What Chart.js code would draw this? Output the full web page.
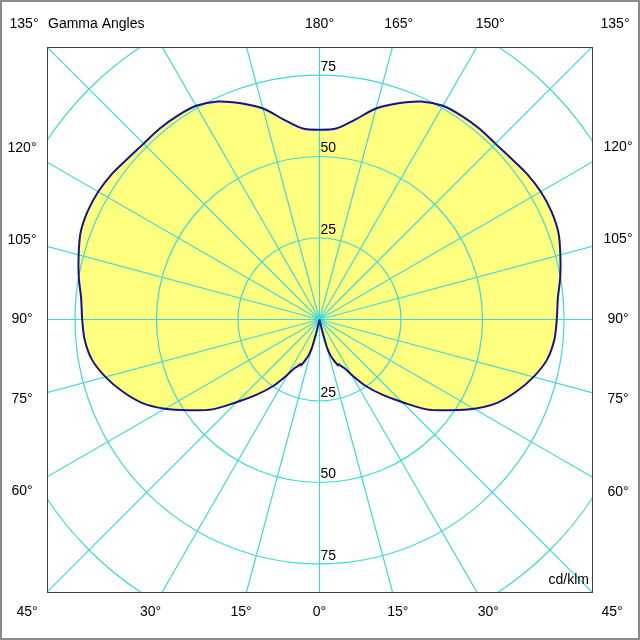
<!DOCTYPE html>
<html>
<head>
<meta charset="utf-8">
<script src="https://cdn.jsdelivr.net/npm/chart.js@4/dist/chart.umd.min.js"></script>
<style>
  html, body { margin: 0; padding: 0; background: #fff; }
  #wrap { width: 640px; height: 640px; }
</style>
</head>
<body>
<div id="wrap"><canvas id="polar" width="640" height="640"></canvas></div>
<script>
// gamma angles (deg, 0 = straight down) and intensity in cd/klm, C0-C180 plane
var gammaAngles = [0, 10, 12, 13, 14, 15, 17, 19, 21, 22, 23, 25, 27.5, 30, 35, 40, 45, 50, 55, 60,
                   65, 70, 75, 80, 85, 90, 95, 100, 105, 110, 115, 120, 125, 130, 135, 140, 145,
                   150, 155, 160, 165, 170, 175, 180];
var intensity   = [0, 0, 0.5, 2.5, 6, 9, 11.5, 13, 14.5, 15.2, 14.8, 15.8, 17, 19.5, 25, 30.2, 35.8, 42.9, 48.5, 54.8,
                   60.3, 64.4, 68, 70.9, 72.3, 72.8, 73.4, 75, 76.5, 78, 78.5, 78.4, 77.8, 76.8, 76.3, 76.4, 76.2,
                   75.7, 73.8, 70.6, 67, 62.2, 58.8, 58.2];

var ringValues  = [25, 50, 75, 100];
var ringLabels  = [25, 50, 75];
var spokeStep   = 15;
var leftAngles  = [15, 30, 45, 60, 75, 90, 105, 120, 135];
var rightAngles = [0, 15, 30, 45, 60, 75, 90, 105, 120, 135, 150, 165, 180];
var axisMax     = 83.6;

var font      = '14px "Liberation Sans", Arial, sans-serif';
var gridColor = '#40d8d8';

function rad(d) { return d * Math.PI / 180; }

// trace right half 0..180, then left half back to 0
var curve = [];
for (var i = 0; i < gammaAngles.length; i++) {
    var g = rad(gammaAngles[i]);
    curve.push({ x: intensity[i] * Math.sin(g), y: -intensity[i] * Math.cos(g) });
}
for (var j = gammaAngles.length - 2; j >= 0; j--) {
    var g2 = rad(gammaAngles[j]);
    curve.push({ x: -intensity[j] * Math.sin(g2), y: -intensity[j] * Math.cos(g2) });
}

var polarGrid = {
    id: 'polarGrid',
    afterDatasetDraw: function(chart, args) {
        if (args.index !== 1) return;
        var ctx = chart.ctx, a = chart.chartArea;
        var xs = chart.scales.x, ys = chart.scales.y;
        var cx = xs.getPixelForValue(0), cy = ys.getPixelForValue(0);
        var unit = xs.getPixelForValue(1) - cx;
        ctx.save();
        ctx.beginPath();
        ctx.rect(a.left, a.top, a.right - a.left, a.bottom - a.top);
        ctx.clip();
        ctx.strokeStyle = gridColor;
        ctx.lineWidth = 1.2;
        ringValues.forEach(function(r) {
            ctx.beginPath();
            ctx.arc(cx, cy, r * unit, 0, 2 * Math.PI);
            ctx.stroke();
        });
        for (var d = 0; d < 360; d += spokeStep) {
            var t = rad(d), far = 600;
            ctx.beginPath();
            ctx.moveTo(cx, cy);
            ctx.lineTo(cx + far * Math.sin(t), cy + far * Math.cos(t));
            ctx.stroke();
        }
        ctx.restore();
    },
    afterDraw: function(chart) {
        var ctx = chart.ctx, a = chart.chartArea;
        var xs = chart.scales.x, ys = chart.scales.y;
        var cx = xs.getPixelForValue(0), cy = ys.getPixelForValue(0);
        var unit = xs.getPixelForValue(1) - cx;
        ctx.save();
        // plot frame and outer border
        ctx.strokeStyle = '#404040';
        ctx.lineWidth = 1;
        ctx.strokeRect(Math.round(a.left) + 0.5, Math.round(a.top) + 0.5,
                       Math.round(a.right - a.left), Math.round(a.bottom - a.top));
        ctx.strokeStyle = '#8a8a8a';
        ctx.lineWidth = 2;
        ctx.strokeRect(1, 1, chart.width - 2, chart.height - 2);

        ctx.fillStyle = '#000';
        ctx.font = font;
        ctx.textBaseline = 'middle';
        // ring values above each circle, up and down
        ctx.textAlign = 'left';
        ringLabels.forEach(function(r) {
            ctx.fillText(String(r), cx + 1, cy - r * unit - 8);
            ctx.fillText(String(r), cx + 1, cy + r * unit - 8);
        });
        // angle labels along the extended spokes
        var L = cx - 22, R = 618 - cx, T = cy - 24, B = 612 - cy;
        function place(d, side) {
            var t = rad(d);
            var dx = side * Math.sin(t), dy = Math.cos(t);
            var k = Infinity;
            if (dx > 1e-6) k = Math.min(k, R / dx);
            if (dx < -1e-6) k = Math.min(k, L / -dx);
            if (dy > 1e-6) k = Math.min(k, B / dy);
            if (dy < -1e-6) k = Math.min(k, T / -dy);
            ctx.textAlign = 'center';
            ctx.fillText(d + '°', cx + k * dx, cy + k * dy);
        }
        leftAngles.forEach(function(d) { place(d, -1); });
        rightAngles.forEach(function(d) { place(d, 1); });

        ctx.textAlign = 'left';
        ctx.fillText('Gamma Angles', a.left + 1, 24);
        ctx.textAlign = 'right';
        ctx.fillText('cd/klm', a.right - 3, a.bottom - 12);
        ctx.restore();
    }
};

new Chart(document.getElementById('polar'), {
    type: 'scatter',
    data: {
        datasets: [
            {
                data: curve,
                showLine: true,
                fill: false,
                borderColor: '#14148c',
                borderWidth: 2,
                pointRadius: 0,
                tension: 0.3
            },
            {
                data: curve,
                showLine: true,
                fill: 'shape',
                backgroundColor: '#ffff80',
                borderColor: 'rgba(0,0,0,0)',
                borderWidth: 1,
                pointRadius: 0,
                tension: 0.3
            }
        ]
    },
    options: {
        responsive: false,
        animation: false,
        layout: { padding: { left: 47, top: 47, right: 48, bottom: 48 } },
        plugins: {
            legend: { display: false },
            tooltip: { enabled: false }
        },
        scales: {
            x: { type: 'linear', min: -axisMax, max: axisMax, display: false },
            y: { type: 'linear', min: -axisMax, max: axisMax, display: false }
        }
    },
    plugins: [polarGrid]
});
</script>
</body>
</html>
